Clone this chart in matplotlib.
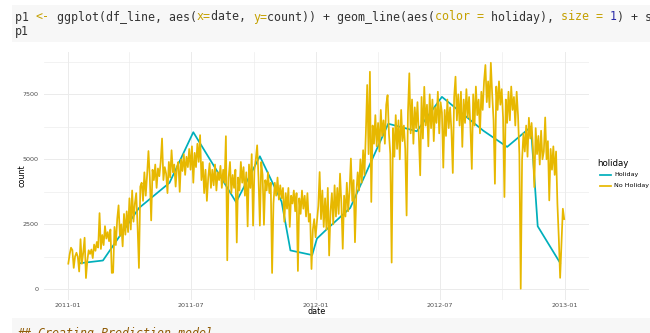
import matplotlib
matplotlib.use("Agg")
import matplotlib.pyplot as plt
from matplotlib.lines import Line2D
from matplotlib.patches import Rectangle
import pandas as pd

W, H = 650, 333

# holiday days (teal line)
holiday_dates = ["2011-01-17", "2011-02-21", "2011-04-15", "2011-05-30", "2011-07-04",
                 "2011-09-05", "2011-10-10", "2011-11-11", "2011-11-24", "2011-12-26",
                 "2012-01-02", "2012-01-16", "2012-02-20", "2012-04-16", "2012-05-28",
                 "2012-07-04", "2012-09-03", "2012-10-08", "2012-11-12", "2012-11-22",
                 "2012-12-25"]
holiday_count = [1000, 1107, 3126, 4098, 6043, 3351, 5117, 3368, 1495, 1317,
                 1951, 2298, 3129, 6370, 6080, 7403, 6100, 5478, 6250, 2425, 1013]

# non-holiday counts, read every second day starting 2011-01-01
no_holiday_start = "2011-01-01"
no_holiday_count = [
    # 2011
    985, 1349, 1600, 1510, 822, 1263, 1406, 1248, 683, 1927, 981, 1416, 1985, 431, 1098, 1501,
    1360, 1530, 1200, 1720, 1480, 1820, 1605, 2930, 1550, 2090, 1700, 2430, 1950, 2200,
    1850, 2300, 630, 640, 2400, 1700, 2700, 3230, 2050, 2500, 1650, 2900, 2100, 3000, 2200,
    3500, 2300, 3800, 2600, 3300, 3700, 2400, 820, 3950, 4100, 3400, 4500, 3600, 4400, 5320,
    4300, 2650, 4600, 4200, 4800, 3900, 4650, 4350, 4900, 5800, 4200, 4700, 4450, 3700, 4900, 4300,
    5350, 4500, 4800, 3950, 4700, 4900, 3750, 5000, 4550, 5200, 4400, 5100, 4700, 5400, 4600,
    5500, 4100, 5250, 4700, 5600, 4900, 5930, 4200, 4900, 3700, 4600, 3400, 4300, 4850, 3900,
    4600, 4000, 4800, 3800, 4500, 4200, 4750, 3900, 4600, 4100, 5890, 1115, 4300, 4900, 3700,
    4400, 3900, 4600, 1800, 4300, 3800, 4900, 4100, 4700, 3600, 4500, 2420, 4800, 3900, 5200,
    2450, 4600, 5000, 5540, 4300, 2450, 4900, 4400, 2480, 4200, 3800, 4500, 3700, 4100, 627, 3300,
    4100, 3600, 4300, 3450, 4000, 3500, 3900, 2600, 3700, 3100, 3900, 2400, 3600, 3300, 3800,
    3000, 3700, 705, 3500, 2900, 3800, 3100, 3600, 2800, 3700, 2600, 2900, 780, 2300, 2700, 2000,
    # 2012
    2600, 3200, 4510, 2700, 3800, 2400, 3500, 2300, 3900, 1300, 3000, 3700, 2500, 4000, 2800,
    3900, 2900, 4450, 3300, 1560, 3600, 2800, 4100, 3000, 3800, 5030, 3400, 4200, 1810, 3700,
    4500, 3800, 5000, 4100, 5350, 4400, 6000, 7860, 5200, 8370, 3360, 6300, 5600, 6700, 5500,
    6400, 5300, 6900, 5900, 6500, 5600, 7100, 7470, 6000, 5200, 1027, 6200, 5100, 6700, 5400,
    6500, 5000, 6900, 5700, 6300, 5400, 2840, 6800, 8310, 6000, 7300, 5600, 7000, 6200, 7200, 5900,
    4385, 7400, 5800, 7790, 6300, 7100, 5500, 7500, 6200, 7300, 5700, 7000, 6400, 7600, 6000,
    7200, 6800, 4680, 6900, 5900, 7300, 6200, 7000, 6100, 4475, 7400, 8180, 6500, 7500, 6300,
    7600, 5480, 7300, 6400, 7700, 6600, 7400, 6200, 4630, 7500, 6300, 7800, 6700, 7300, 6000,
    7600, 6900, 8000, 8630, 7200, 8000, 7000, 8714, 7500, 6500, 4060, 7800, 6900, 8000, 7100,
    7700, 6600, 3550, 7300, 6400, 7600, 6500, 7800, 6900, 7400, 6300, 7600, 6700, 5200, 22, 5000,
    6000, 5300, 6300, 5100, 6600, 5800, 6400, 5400, 3930, 6200, 5200, 5900, 4800, 6100, 5000,
    5300, 6610, 5000, 5700, 3420, 5400, 4600, 5500, 4400, 5300, 3290, 2000, 441, 1800, 3100, 2700,
]

x_major = ["2011-01-01", "2011-07-01", "2012-01-01", "2012-07-01", "2013-01-01"]
x_major_labels = ["2011-01", "2011-07", "2012-01", "2012-07", "2013-01"]
x_minor = ["2011-04-01", "2011-10-01", "2012-04-01", "2012-10-01"]
y_major = [0, 2500, 5000, 7500]
y_minor = [1250, 3750, 6250, 8750]

TEAL = "#00AFBB"
YELLOW = "#E7B800"
GRID = "#EBEBEB"

fig = plt.figure(figsize=(W / 100, H / 100), dpi=100)


def fx(x):
    return x / W


def fy(y):
    return 1 - y / H


# code chunk above the chart (and the start of the next one below)
fig.add_artist(Rectangle((fx(12), fy(42)), 1 - fx(12), (42 - 5) / H,
                         transform=fig.transFigure, facecolor="#f7f7f7",
                         edgecolor="none", zorder=0))
fig.add_artist(Rectangle((fx(12), 0), 1 - fx(12), (333 - 318) / H,
                         transform=fig.transFigure, facecolor="#f7f7f7",
                         edgecolor="none", zorder=0))

CODE = "#333333"
ARG = "#c4a000"
NUM = "#2a2aa8"
code_line = [("p1 ", CODE), ("<-", ARG), (" ggplot(df_line, aes(", CODE), ("x=", ARG),
             ("date, ", CODE), ("y=", ARG), ("count)) + geom_line(aes(", CODE),
             ("color = ", ARG), ("holiday), ", CODE), ("size = ", ARG), ("1", NUM),
             (") + s", CODE)]
char_w = 7.0
col = 0
for txt, c in code_line:
    fig.text(fx(15 + col * char_w), fy(17), txt, color=c, family="DejaVu Sans Mono",
             fontsize=8.37, va="center", ha="left")
    col += len(txt)
fig.text(fx(15), fy(32), "p1", color=CODE, family="DejaVu Sans Mono",
         fontsize=8.37, va="center", ha="left")
fig.text(fx(17), fy(337), "## Creating Prediction model", color="#8f5902",
         family="DejaVu Sans Mono", style="italic", fontsize=8.37,
         va="baseline", ha="left")

# chart panel
ax = fig.add_axes([fx(43.5), fy(300), (589 - 43.5) / W, (300 - 51.5) / H])
hd = pd.to_datetime(holiday_dates)
nd = pd.date_range(no_holiday_start, periods=len(no_holiday_count), freq="2D")
ax.plot(hd, holiday_count, color=TEAL, lw=1.25, solid_joinstyle="round", zorder=3)
ax.plot(nd, no_holiday_count, color=YELLOW, lw=1.25, solid_joinstyle="round", zorder=4)
ax.margins(x=0.05, y=0.05)

ax.set_xticks(pd.to_datetime(x_major))
ax.set_xticklabels(x_major_labels)
ax.set_xticks(pd.to_datetime(x_minor), minor=True)
ax.set_yticks(y_major)
ax.set_yticklabels([str(v) for v in y_major])
ax.set_yticks(y_minor, minor=True)
ax.grid(which="major", color=GRID, lw=0.7, zorder=0)
ax.grid(which="minor", color=GRID, lw=0.45, zorder=0)
ax.set_axisbelow(True)
for s in ax.spines.values():
    s.set_visible(False)
ax.tick_params(which="both", length=0)
ax.tick_params(axis="x", labelsize=4.6, labelcolor="#4d4d4d", pad=2.5)
ax.tick_params(axis="y", labelsize=4.6, labelcolor="#4d4d4d", pad=3.5)
ax.set_xlabel("date", fontsize=5.8, va="center")
ax.set_ylabel("count", fontsize=5.8, va="center")
ax.xaxis.set_label_coords(0.5, (300 - 312) / 248.5)
ax.yaxis.set_label_coords((22 - 43.5) / 545.5, 0.5)

# legend
fig.text(fx(597), fy(163), "holiday", fontsize=6.2, va="center", ha="left")
for i, (lab, c) in enumerate([("Holiday", TEAL), ("No Holiday", YELLOW)]):
    yy = 174.5 + i * 11.3
    fig.add_artist(Line2D([fx(600), fx(611)], [fy(yy), fy(yy)], color=c, lw=1.25,
                          transform=fig.transFigure))
    fig.text(fx(614), fy(yy), lab, fontsize=4.6, va="center", ha="left")

fig.savefig("out.png", dpi=100)
